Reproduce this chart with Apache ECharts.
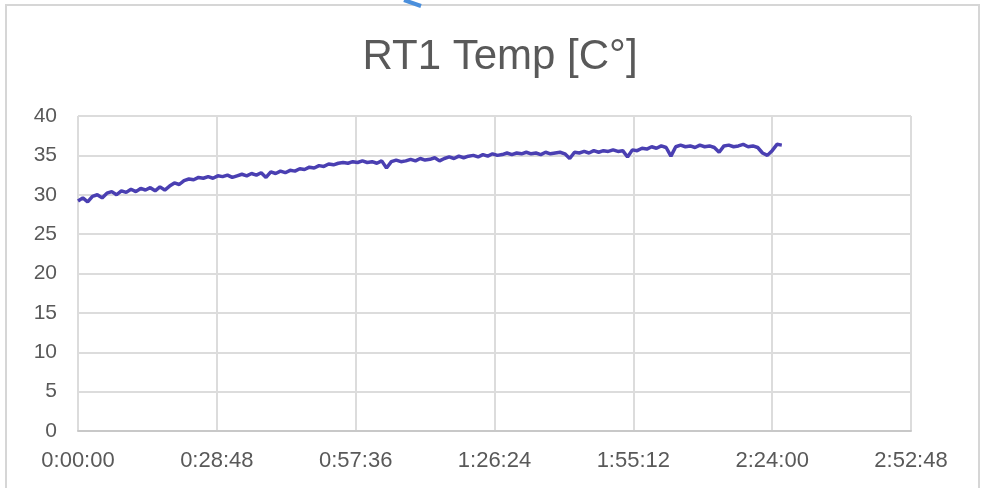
<!DOCTYPE html>
<html>
<head>
<meta charset="utf-8">
<title>RT1 Temp</title>
<script src="https://cdn.jsdelivr.net/npm/echarts@6/dist/echarts.min.js"></script>
<style>
  html, body { margin: 0; padding: 0; background: #fff; }
  #chart { width: 984px; height: 488px; }
</style>
</head>
<body>
<div id="chart"></div>
<script>
// sample every 60 s, starting at 0:00:00
var sampleStep = 60
var tempValues = [
  29.2, 29.6, 29.1, 29.8, 30.0, 29.6, 30.2, 30.4, 30.0, 30.5,
  30.3, 30.7, 30.4, 30.8, 30.6, 30.9, 30.5, 31.0, 30.6, 31.1,
  31.5, 31.3, 31.8, 32.0, 31.9, 32.2, 32.1, 32.3, 32.1, 32.4,
  32.3, 32.5, 32.2, 32.4, 32.6, 32.4, 32.7, 32.5, 32.8, 32.2,
  32.9, 32.7, 33.0, 32.8, 33.1, 33.0, 33.3, 33.2, 33.5, 33.4,
  33.7, 33.6, 33.9, 33.8, 34.0, 34.1, 34.0, 34.2, 34.1, 34.3,
  34.1, 34.2, 34.0, 34.3, 33.4, 34.2, 34.4, 34.2, 34.3, 34.5,
  34.3, 34.6, 34.4, 34.5, 34.7, 34.3, 34.6, 34.8, 34.6, 34.9,
  34.7, 34.9, 35.0, 34.8, 35.1, 34.9, 35.2, 35.0, 35.1, 35.3,
  35.1, 35.3, 35.2, 35.4, 35.2, 35.3, 35.1, 35.4, 35.2, 35.3,
  35.4, 35.2, 34.6, 35.4, 35.3, 35.5, 35.3, 35.6, 35.4, 35.6,
  35.5, 35.7, 35.5, 35.6, 34.8, 35.7, 35.6, 35.9, 35.8, 36.1,
  35.9, 36.2, 36.0, 34.9, 36.1, 36.3, 36.1, 36.2, 36.0, 36.3,
  36.1, 36.2, 36.0, 35.4, 36.2, 36.3, 36.1, 36.2, 36.4, 36.1,
  36.2, 36.0, 35.3, 35.0, 35.6, 36.4, 36.3
]
// x ticks every 0:28:48 (1728 s) up to 2:52:48
var xTickStep = 1728
var xMax = 10368
var yTicks = [0, 5, 10, 15, 20, 25, 30, 35, 40]

function fmtTime(sec) {
  var h = Math.floor(sec / 3600)
  var m = Math.floor((sec % 3600) / 60)
  var s = sec % 60
  return h + ':' + (m < 10 ? '0' : '') + m + ':' + (s < 10 ? '0' : '') + s
}

var seriesData = tempValues.map(function (v, i) { return [i * sampleStep, v] })

var chart = echarts.init(document.getElementById('chart'))
chart.setOption({
  animation: false,
  textStyle: { fontFamily: 'Liberation Sans' },
  title: {
    text: 'RT1 Temp [C°]',
    left: 495,
    top: 31,
    textAlign: 'center',
    textStyle: { fontSize: 42, fontWeight: 'normal', color: '#595959' }
  },
  grid: { left: 78, right: 73, top: 116, bottom: 57 },
  xAxis: {
    type: 'value',
    min: 0,
    max: xMax,
    interval: xTickStep,
    axisLine: { show: true, lineStyle: { color: '#c8c8c8', width: 2 } },
    axisTick: { show: false },
    axisLabel: {
      color: '#595959', fontSize: 22, margin: 19,
      formatter: function (v) { return fmtTime(v) }
    },
    splitLine: { show: true, lineStyle: { color: '#dcdcdc', width: 2 } }
  },
  yAxis: {
    type: 'value',
    min: yTicks[0],
    max: yTicks[yTicks.length - 1],
    interval: 5,
    axisLine: { show: false },
    axisTick: { show: false },
    axisLabel: { color: '#595959', fontSize: 21, margin: 21 },
    splitLine: { show: true, lineStyle: { color: '#dcdcdc', width: 2 } }
  },
  series: [{
    name: 'RT1 Temp',
    type: 'line',
    data: seriesData,
    showSymbol: false,
    lineStyle: { color: '#4a3fb2', width: 3.5 },
    itemStyle: { color: '#4a3fb2' }
  }],
  graphic: [
    {
      type: 'rect',
      shape: { x: 6, y: 5, width: 973, height: 500 },
      style: { fill: 'none', stroke: '#d6d6d6', lineWidth: 2 },
      silent: true
    },
    {
      type: 'line',
      shape: { x1: 404, y1: 0, x2: 421, y2: 6 },
      style: { stroke: '#4a8fdc', lineWidth: 4 },
      silent: true
    }
  ]
})
</script>
</body>
</html>
